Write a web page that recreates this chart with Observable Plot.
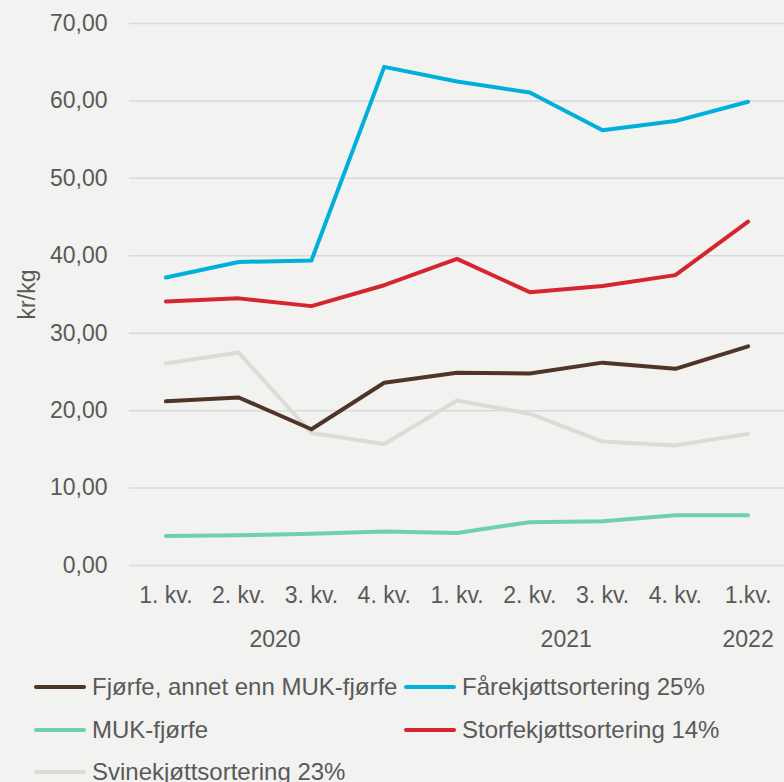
<!DOCTYPE html>
<html>
<head>
<meta charset="utf-8">
<script src="https://cdn.jsdelivr.net/npm/d3@7"></script>
<script src="https://cdn.jsdelivr.net/npm/@observablehq/plot@0.6"></script>
<style>
  html, body { margin: 0; padding: 0; background: #f2f2f0; }
  body { width: 784px; height: 782px; overflow: hidden; font-family: "Liberation Sans", Arial, sans-serif; color: #595959; }
  #legend { position: relative; height: 122px; font-size: 24px; }
  .item { position: absolute; display: flex; align-items: center; height: 42px; white-space: nowrap; }
  .sw { width: 52px; height: 4px; border-radius: 2px; margin-right: 6px; }
</style>
</head>
<body>
<div id="chart"></div>
<div id="legend"></div>
<script>
// Categories (quarters) and year groups
const quarters = ["1. kv.", "2. kv.", "3. kv.", "4. kv.", "1. kv.", "2. kv.", "3. kv.", "4. kv.", "1.kv."];
const years = ["2020", "2021", "2022"];
const yearFirstIndex = [0, 4, 8];
const yearLastIndex = [3, 7, 8];

// Series names and colours
const seriesNames = ["Fjørfe, annet enn MUK-fjørfe", "Fårekjøttsortering 25%", "MUK-fjørfe", "Storfekjøttsortering 14%", "Svinekjøttsortering 23%"];
const seriesColors = ["#4f3528", "#00b0da", "#6fcfb1", "#d5262f", "#dcdbd7"];

// Values (kr/kg)
const fjorfe = [21.2, 21.7, 17.6, 23.6, 24.9, 24.8, 26.2, 25.4, 28.3];
const fare   = [37.2, 39.2, 39.4, 64.4, 62.5, 61.1, 56.2, 57.4, 59.9];
const muk    = [3.8, 3.9, 4.1, 4.4, 4.2, 5.6, 5.7, 6.5, 6.5];
const storfe = [34.1, 34.5, 33.5, 36.2, 39.6, 35.3, 36.1, 37.5, 44.4];
const svine  = [26.1, 27.5, 17.1, 15.7, 21.3, 19.6, 16.0, 15.5, 17.0];

// Y ticks
const yTicks = [0, 10, 20, 30, 40, 50, 60, 70];

const seriesValues = [fjorfe, fare, muk, storfe, svine];
const rows = [];
seriesValues.forEach((vals, s) => vals.forEach((v, i) => rows.push({series: seriesNames[s], i, v})));
const yearRows = years.map((y, k) => ({year: y, mid: (yearFirstIndex[k] + yearLastIndex[k]) / 2}));
const fmt = d => d.toFixed(2).replace(".", ",");
const drawOrder = [4, 0, 1, 2, 3];

const chart = Plot.plot({
  width: 784,
  height: 660,
  marginTop: 23,
  marginBottom: 95,
  marginLeft: 129,
  marginRight: 0,
  style: {background: "#f2f2f0", fontFamily: "'Liberation Sans', Arial, sans-serif", fontSize: "23px", color: "#595959"},
  x: {type: "linear", domain: [-0.5, quarters.length - 0.5]},
  y: {domain: [0, 70]},
  color: {domain: seriesNames, range: seriesColors},
  marks: [
    Plot.gridY(yTicks, {stroke: "#d9d9d9", strokeOpacity: 1, strokeWidth: 1.5}),
    Plot.axisY(yTicks, {tickSize: 0, tickPadding: 22, tickFormat: fmt, label: null, fill: "#595959", fontSize: 23}),
    Plot.axisX(d3.range(quarters.length), {tickSize: 0, tickPadding: 21, tickFormat: i => quarters[i], label: null, fill: "#595959", fontSize: 23}),
    Plot.text(yearRows, {x: "mid", text: "year", frameAnchor: "bottom", lineAnchor: "top", dy: 65, fill: "#595959", fontSize: 23}),
    Plot.text(["kr/kg"], {text: d => d, frameAnchor: "left", rotate: -90, dx: -102, fill: "#595959", fontSize: 23, textAnchor: "middle"}),
    ...drawOrder.map(s => Plot.line(rows.filter(r => r.series === seriesNames[s]), {x: "i", y: "v", stroke: "series", strokeWidth: 4, strokeLinecap: "round", strokeLinejoin: "round"}))
  ]
});
document.getElementById("chart").appendChild(chart);

// Legend (two columns)
const legend = document.getElementById("legend");
const pos = [[34, 6], [404, 6], [34, 48.5], [404, 48.5], [34, 91]];
seriesNames.forEach((name, k) => {
  const it = document.createElement("div");
  it.className = "item";
  it.style.left = pos[k][0] + "px";
  it.style.top = (pos[k][1] - 0) + "px";
  const sw = document.createElement("span");
  sw.className = "sw";
  sw.style.background = seriesColors[k];
  const tx = document.createElement("span");
  tx.textContent = name;
  it.appendChild(sw); it.appendChild(tx);
  legend.appendChild(it);
});
</script>
</body>
</html>
